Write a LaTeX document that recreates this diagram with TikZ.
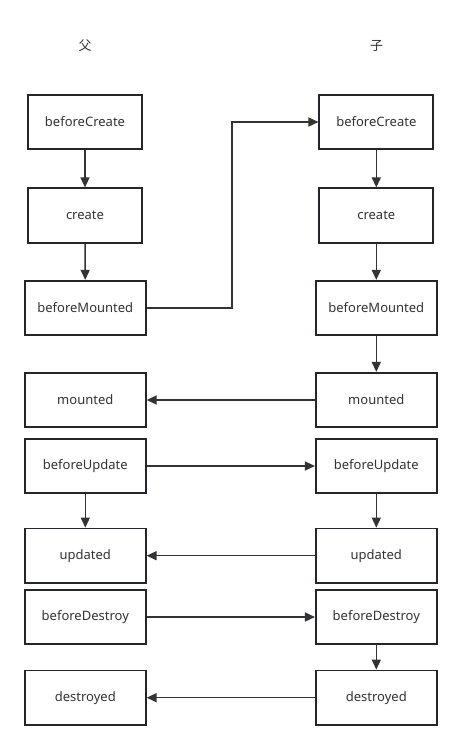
\documentclass[tikz,border=0pt]{standalone}
\usepackage{fontspec}
\setmainfont{Noto Sans}
\newfontfamily\cjk{Noto Sans CJK SC}
\usetikzlibrary{arrows.meta}
\definecolor{linec}{HTML}{333333}
\definecolor{boxc}{HTML}{23272B}
\begin{document}
\begin{tikzpicture}[x=1pt,y=-1pt,
  lbox/.style={draw=boxc,line width=1.7pt,fill=white,inner sep=0pt,
    font=\fontsize{13}{15}\selectfont,text=linec},
  sbox/.style={lbox,minimum width=114pt,minimum height=54.5pt},
  wbox/.style={lbox,minimum width=121pt,minimum height=54.5pt},
  conn/.style={draw=linec,line width=1.5pt,-{Triangle[length=10pt,width=9pt]}},
  head/.style={font=\cjk\fontsize{13}{15}\selectfont,text=linec}]
\useasboundingbox (0,0) rectangle (462,750);
\fill[white] (0,0) rectangle (462,750);
\node[head] (hp) at (85,46) {父};
\node[head] (hc) at (376.5,46) {子};
% left column
\node[sbox] (l1) at (85,122) {beforeCreate};
\node[sbox] (l2) at (85,215.5) {create};
\node[wbox] (l3) at (85.3,308) {beforeMounted};
\node[wbox] (l4) at (85.3,400) {mounted};
\node[wbox] (l5) at (85.3,466) {beforeUpdate};
\node[wbox] (l6) at (85.3,555.7) {updated};
\node[wbox] (l7) at (85.3,617) {beforeDestroy};
\node[wbox] (l8) at (85.3,697.7) {destroyed};
% right column
\node[sbox] (r1) at (376.3,122) {beforeCreate};
\node[sbox] (r2) at (376.3,215.5) {create};
\node[wbox] (r3) at (376.3,308) {beforeMounted};
\node[wbox] (r4) at (376.3,400) {mounted};
\node[wbox] (r5) at (376.3,466) {beforeUpdate};
\node[wbox] (r6) at (376.3,555.7) {updated};
\node[wbox] (r7) at (376.3,617) {beforeDestroy};
\node[wbox] (r8) at (376.3,697.7) {destroyed};
% vertical arrows
\draw[conn] (l1) -- (l2);
\draw[conn] (l2) -- (l3);
\draw[conn] (l5) -- (l6);
\draw[conn] (r1) -- (r2);
\draw[conn] (r2) -- (r3);
\draw[conn] (r3) -- (r4);
\draw[conn] (r5) -- (r6);
\draw[conn] (r7) -- (r8);
% horizontal arrows
\coordinate (e1) at (232,308);
\coordinate (e2) at (232,122);
\draw[conn] (l3.east) -- (e1) -- (e2) -- (r1.west);
\draw[conn] (r4) -- (l4);
\draw[conn] (l5) -- (r5);
\draw[conn] (r6) -- (l6);
\draw[conn] (l7) -- (r7);
\draw[conn] (r8) -- (l8);
\end{tikzpicture}
\end{document}
